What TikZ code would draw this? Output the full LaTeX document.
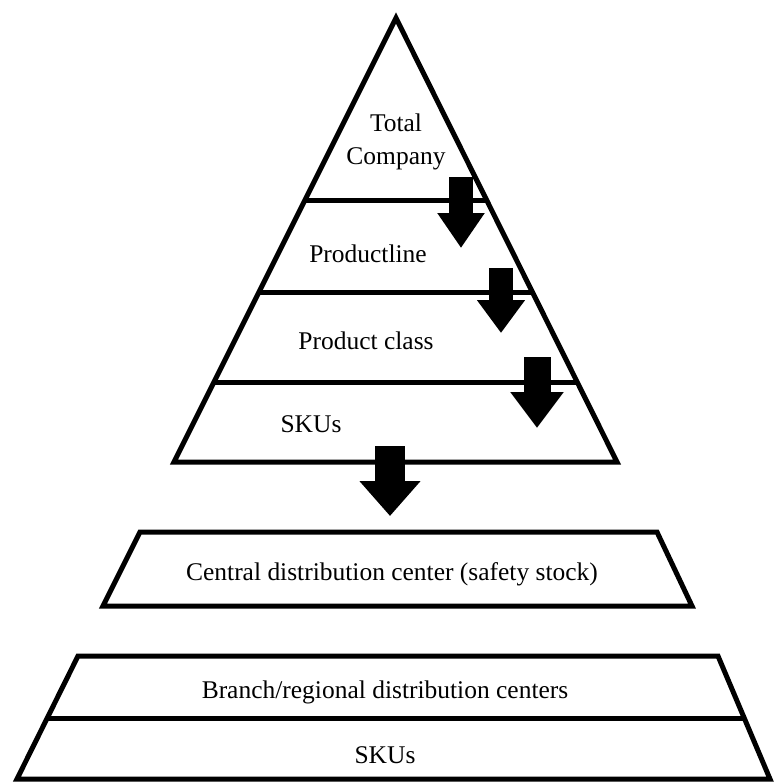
\documentclass[tikz,border=0pt]{standalone}
\usepackage{fontspec}
\setmainfont{Liberation Serif}
\usetikzlibrary{arrows.meta, calc}
\tikzset{
  shp/.style={draw=black, line width=0.1cm, line join=miter},
  lvl/.style={font=\fontsize{14.5}{19}\selectfont, inner sep=0pt, anchor=base},
  blk/.style={draw=black, line width=#1},
  tipa/.style={-{Triangle[width=0.9cm, length=0.7cm]}},
  tipb/.style={-{Triangle[width=0.92cm, length=0.66cm]}},
  tipc/.style={-{Triangle[width=1.02cm, length=0.72cm]}},
  tipd/.style={-{Triangle[width=1.18cm, length=0.7cm]}}
}
\begin{document}
\begin{tikzpicture}[x=0.02cm, y=-0.02cm]
\useasboundingbox (0,0) rectangle (775,782);
% pyramid
\coordinate (apx) at (396,18);
\coordinate (bl) at (174,462);
\coordinate (br) at (617,462);
\draw[shp] (apx) -- (bl) -- (br) -- cycle;
\draw[shp] ($(apx)!0.41!(bl)$) -- ($(apx)!0.41!(br)$);
\draw[shp] ($(apx)!0.619!(bl)$) -- ($(apx)!0.619!(br)$);
\draw[shp] ($(apx)!0.82!(bl)$) -- ($(apx)!0.82!(br)$);
\node[font=\fontsize{14.5}{19}\selectfont, align=center, inner sep=0pt] (tc) at (396,142) {Total\\Company};
\node[lvl] (pl) at (368,262) {Productline};
\node[lvl] (pc) at (366,349) {Product class};
\node[lvl] (sk) at (311,432) {SKUs};
% central DC
\coordinate (c1) at (140,532);
\coordinate (c2) at (657,532);
\coordinate (c3) at (692,606);
\coordinate (c4) at (103,606);
\draw[shp] (c1) -- (c2) -- (c3) -- (c4) -- cycle;
\node[lvl] (cdc) at (392,580) {Central distribution center (safety stock)};
% branches
\coordinate (b1) at (78,656);
\coordinate (b2) at (718,656);
\coordinate (b3) at (770,779);
\coordinate (b4) at (17,779);
\draw[shp] (b1) -- (b2) -- (b3) -- (b4) -- cycle;
\draw[shp] ($(b1)!0.512!(b4)$) -- ($(b2)!0.512!(b3)$);
\node[lvl] (brc) at (385,698) {Branch/regional distribution centers};
\node[lvl] (bsk) at (385,763) {SKUs};
% block arrows
\coordinate (a1s) at (461,177);
\coordinate (a1e) at (461,248);
\coordinate (a2s) at (501,268);
\coordinate (a2e) at (501,333);
\coordinate (a3s) at (537,357);
\coordinate (a3e) at (537,428);
\coordinate (a4s) at (390,446);
\coordinate (a4e) at (390,516);
\draw[blk=0.48cm, tipa] (a1s) -- (a1e);
\draw[blk=0.48cm, tipb] (a2s) -- (a2e);
\draw[blk=0.54cm, tipc] (a3s) -- (a3e);
\draw[blk=0.6cm, tipd] (a4s) -- (a4e);
\end{tikzpicture}
\end{document}
